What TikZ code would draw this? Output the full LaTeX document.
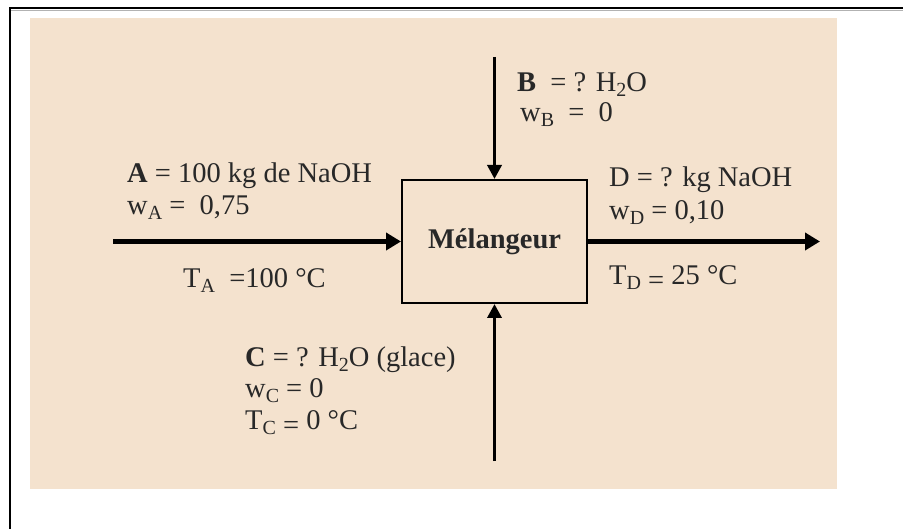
\documentclass[tikz,border=0pt]{standalone}
\usepackage{fontspec}
\setmainfont{Liberation Serif}
\usetikzlibrary{arrows.meta}
\definecolor{beige}{RGB}{244,226,206}
\definecolor{ink}{RGB}{40,40,40}
\tikzset{
  lbl/.style={anchor=base west, inner sep=0pt, text=ink, font=\fontsize{28.5}{33}\selectfont},
  flowh/.style={line width=5pt, -{Triangle[length=15pt,width=17pt]}},
  flowv/.style={line width=3.6pt, -{Triangle[length=14pt,width=14pt]}},
  mixbox/.style={draw, line width=2pt, minimum width=185pt, minimum height=123pt, inner sep=0pt, font=\fontsize{28.5}{33}\selectfont\bfseries, text=ink}
}
\newcommand{\sbs}[1]{\raisebox{-4.5pt}{\fontsize{20}{20}\selectfont #1}}
\newcommand{\loweq}{\raisebox{-4.5pt}{=}}
\begin{document}
\begin{tikzpicture}[x=1pt,y=-1pt]
\useasboundingbox (0,0) rectangle (903,529);
\fill[white] (0,0) rectangle (903,529);
\fill[beige] (30,18) rectangle (837,489);
\draw[line width=2pt] (10,529) -- (10,8) -- (903,8);
\draw[gray!60, line width=0.6pt] (11,10) -- (903,10);

\node[mixbox] (mix) at (494.5,241.5) {Mélangeur};

\coordinate (ain) at (113,241.5);
\coordinate (dout) at (820,241.5);
\coordinate (bin) at (494.5,57);
\coordinate (cin) at (494.5,461);

\draw[flowh] (ain) -- (mix.west);
\draw[flowh] (mix.east) -- (dout);
\draw[flowv] (bin) -- (mix.north);
\draw[flowv] (cin) -- (mix.south);

% A
\node[lbl] (a1) at (127,183) {\textbf{A} = 100 kg de NaOH};
\node[lbl] (a2) at (127,215) {w\sbs{A} =\ \ 0,75};
\node[lbl] (a3) at (183,288) {T\sbs{A} \ =100 °C};
% B
\node[lbl] (b1) at (517,92) {\textbf{B} \ = ? H\sbs{2}O};
\node[lbl] (b2) at (520,122) {w\sbs{B} \ =\ \ 0};
% D
\node[lbl] (d1) at (609,187) {D = ? kg NaOH};
\node[lbl] (d2) at (609,220) {w\sbs{D} = 0,10};
\node[lbl] (d3) at (609,285) {T\sbs{D} \loweq\ 25 °C};
% C
\node[lbl] (c1) at (245,367) {\textbf{C} = ? H\sbs{2}O (glace)};
\node[lbl] (c2) at (245,398) {w\sbs{C} = 0};
\node[lbl] (c3) at (245,430) {T\sbs{C} \loweq\ 0 °C};
\end{tikzpicture}
\end{document}
